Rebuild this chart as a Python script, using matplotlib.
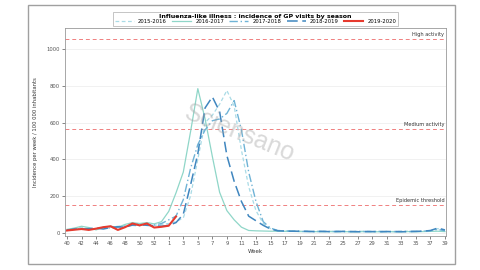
import matplotlib
matplotlib.use('Agg')
import matplotlib.pyplot as plt
from matplotlib.patches import Rectangle
import numpy as np

# weeks 40..53 then 1..39
weeks = [40, 41, 42, 43, 44, 45, 46, 47, 48, 49, 50, 51, 52, 53,
         1, 2, 3, 4, 5, 6, 7, 8, 9, 10, 11, 12, 13, 14, 15, 16, 17, 18, 19, 20,
         21, 22, 23, 24, 25, 26, 27, 28, 29, 30, 31, 32, 33, 34, 35, 36, 37, 38, 39]

s2015 = [15, 22, 30, 25, 18, 25, 30, 35, 38, 45, 50, 45, 40, 45,
         50, 60, 80, 200, 400, 600, 640, 700, 775, 690, 450, 250, 120, 50, 22, 12, 10, 9, 8, 8,
         7, 8, 7, 8, 7, 6, 7, 8, 7, 6, 7, 6, 7, 8, 7, 8, 10, 22, 12]
s2016 = [18, 25, 35, 28, 15, 30, 35, 30, 45, 55, 50, 55, 48, 60,
         116, 217, 330, 550, 785, 620, 415, 220, 120, 70, 30, 12, 10, 9, 8, 8, 7, 7, 6, 6,
         6, 5, 6, 5, 6, 5, 5, 6, 5, 5, 6, 5, 5, 6, 5, 6, 7, 8, 6]
s2017 = [12, 18, 22, 20, 22, 28, 25, 30, 35, 40, 38, 45, 42, 50,
         70, 90, 180, 350, 480, 560, 610, 620, 650, 720, 560, 330, 170, 60, 25, 12, 9, 8, 7, 7,
         6, 7, 6, 7, 6, 6, 7, 6, 6, 7, 6, 6, 7, 6, 7, 8, 10, 18, 10]
s2018 = [14, 20, 18, 22, 25, 20, 28, 32, 30, 42, 45, 40, 38, 35,
         40, 55, 100, 260, 430, 680, 740, 660, 420, 280, 170, 90, 65, 40, 20, 10, 9, 8, 8, 7,
         6, 7, 6, 6, 7, 6, 5, 6, 6, 5, 6, 6, 5, 6, 7, 8, 12, 25, 15]
s2019 = [12, 16, 20, 15, 22, 30, 35, 15, 30, 50, 40, 50, 28, 32, 38, 88]

seasons = ['2015-2016', '2016-2017', '2017-2018', '2018-2019', '2019-2020']
thresholds = [1055, 565, 152]
threshold_labels = ['High activity', 'Medium activity', 'Epidemic threshold']

fig = plt.figure(figsize=(4.8, 2.7), dpi=100)
ax = fig.add_axes([0.135, 0.126, 0.795, 0.77])

x = np.arange(len(weeks))
ax.plot(x, s2015, color='#a9dbe6', lw=0.9, ls=(0, (3, 2)), label=seasons[0])
ax.plot(x, s2016, color='#8fd6c8', lw=0.9, ls='-', label=seasons[1])
ax.plot(x, s2017, color='#6fb3d6', lw=1.0, ls=(0, (6, 2, 1, 2)), label=seasons[2])
ax.plot(x, s2018, color='#3f86bf', lw=1.1, ls=(0, (7, 3)), label=seasons[3])
ax.plot(x[:len(s2019)], s2019, color='#e63a2e', lw=1.5, label=seasons[4])

for val, lab in zip(thresholds, threshold_labels):
    ax.axhline(val, color='#f08080', lw=0.7, ls=(0, (4, 3)), zorder=1)
    ax.text(x[-1] - 0.1, val + 12, lab, fontsize=3.6, ha='right', va='bottom', color='#333333')

ax.set_xlim(-0.3, 52.2)
ax.set_ylim(-18, 1115)
ax.set_yticks([0, 200, 400, 600, 800, 1000])
ax.set_xticks(x[::2])
ax.set_xticklabels([str(w) for w in weeks[::2]])
ax.tick_params(labelsize=3.8, length=2, width=0.5, colors='#555555', pad=1.5)
ax.grid(axis='y', color='#ececec', lw=0.5)
ax.set_axisbelow(True)
for sp in ax.spines.values():
    sp.set_color('#999999')
    sp.set_linewidth(0.6)

ax.set_xlabel('Week', fontsize=4, color='#333333', labelpad=2)
ax.set_ylabel('Incidence per week / 100 000 inhabitants', fontsize=3.8, color='#333333', labelpad=6)

leg = fig.legend(loc='upper center', bbox_to_anchor=(0.532, 0.965), ncol=5, fontsize=3.8,
                 title='Influenza-like illness : incidence of GP visits by season',
                 title_fontproperties={'size': 4.5, 'weight': 'bold'},
                 frameon=True, fancybox=False, edgecolor='#aaaaaa', handlelength=3.6,
                 columnspacing=1.0, handletextpad=0.8, borderpad=0.3, labelspacing=0.1)
leg.get_frame().set_linewidth(0.6)

# watermark
fig.text(0.5, 0.505, 'Sciensano', fontsize=18, color='#a0a0a0', alpha=0.4,
         rotation=-22, ha='center', va='center', family='Liberation Sans')

# outer frame
fig.patches.append(Rectangle((0.059, 0.022), 0.889, 0.96, transform=fig.transFigure,
                             fill=False, edgecolor='#a0a0a0', lw=1.0))

fig.savefig('out.png', dpi=100)
